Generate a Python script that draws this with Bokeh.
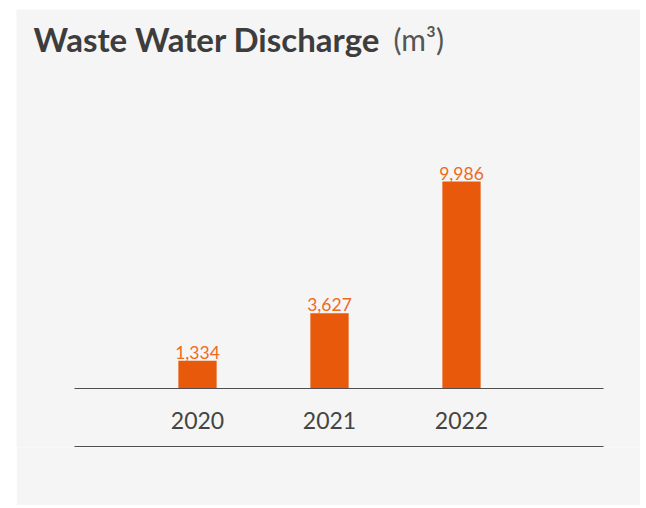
from bokeh.plotting import figure
from bokeh.models import Range1d, Label, ColumnDataSource, FixedTicker
from bokeh.core.properties import value
from bokeh.embed import file_html
from bokeh.resources import INLINE

# Waste water discharge per year (m³)
years = [2020, 2021, 2022]
discharge = [1334, 3627, 9986]
value_labels = ["1,334", "3,627", "9,986"]
year_labels = ["2020", "2021", "2022"]

ORANGE = "#E8590C"
PANEL = "#F5F5F5"
RULE = "#4F4F4F"

# pixel geometry of the panel: 132 px per year, 9986 m³ spans 207 px
PX_PER_YEAR = 132.0
UNITS_PER_PX = 9986 / 207.0
X0 = years[0] - 181 / PX_PER_YEAR
Y0 = -59 * UNITS_PER_PX

src = ColumnDataSource(dict(x=years, top=discharge, label=value_labels))

p = figure(
    width=624, height=496,
    output_backend="svg", toolbar_location=None,
    x_range=Range1d(X0, X0 + 624 / PX_PER_YEAR),
    y_range=Range1d(Y0, Y0 + 438 * UNITS_PER_PX),
    min_border_left=0, min_border_right=0,
    min_border_top=0, min_border_bottom=58,
    background_fill_color=PANEL, border_fill_color=PANEL,
    outline_line_color=None,
)
p.margin = (9, 6, 3, 16)

p.vbar(x="x", top="top", bottom=0, width=0.29, source=src,
       fill_color=ORANGE, line_color=None)

p.text(x="x", y="top", text="label", source=src,
       text_align="center", text_baseline="bottom", y_offset=-2,
       text_font=value("Lato"), text_font_size="17.5px", text_color="#EE6A1C")

# horizontal rules: baseline under the bars and the closing rule under the years
rule_x0 = years[0] - 123 / PX_PER_YEAR
rule_x1 = years[0] + 406 / PX_PER_YEAR
p.segment(x0=[rule_x0, rule_x0], x1=[rule_x1, rule_x1],
          y0=[0, -58 * UNITS_PER_PX], y1=[0, -58 * UNITS_PER_PX],
          line_color=RULE, line_width=1.2)

p.grid.visible = False
p.yaxis.visible = False

xa = p.xaxis[0]
xa.ticker = FixedTicker(ticks=years)
xa.major_label_overrides = {y: s for y, s in zip(years, year_labels)}
xa.major_tick_line_color = None
xa.minor_tick_line_color = None
xa.axis_line_color = None
xa.major_label_standoff = -42
xa.major_label_text_font = "Lato"
xa.major_label_text_font_size = "23px"
xa.major_label_text_color = "#444444"

p.add_layout(Label(x=17, y=29, x_units="canvas", y_units="canvas",
                   text="Waste Water Discharge", text_font="Lato",
                   text_font_style="bold", text_font_size="33px",
                   text_color="#3D3D3D", text_baseline="alphabetic"))
p.add_layout(Label(x=377, y=29, x_units="canvas", y_units="canvas",
                   text="(m³)", text_font="Lato",
                   text_font_size="30px",
                   text_color="#555555", text_baseline="alphabetic"))

html = file_html(p, INLINE)
with open("out.html", "w") as f:
    f.write(html)
